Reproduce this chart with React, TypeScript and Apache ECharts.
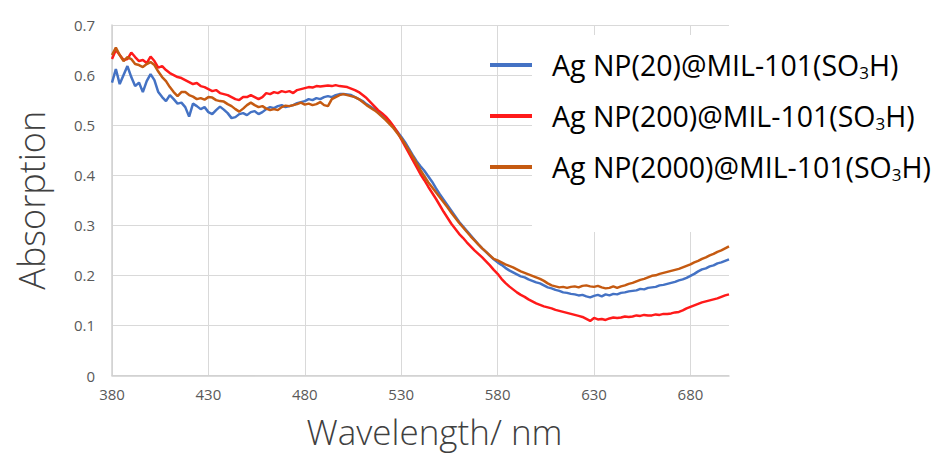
import React, { useEffect, useRef } from "react";
import * as echarts from "echarts";

const wavelengths = [
  380, 382, 384, 386, 388, 390, 392, 394, 396, 398, 400, 402, 404, 406, 408, 410, 412, 414, 416, 418,
  420, 422, 424, 426, 428, 430, 432, 434, 436, 438, 440, 442, 444, 446, 448, 450, 452, 454, 456, 458,
  460, 462, 464, 466, 468, 470, 472, 474, 476, 478, 480, 482, 484, 486, 488, 490, 492, 494, 496, 498,
  500, 502, 504, 506, 508, 510, 512, 514, 516, 518, 520, 522, 524, 526, 528, 530, 532, 534, 536, 538,
  540, 542, 544, 546, 548, 550, 552, 554, 556, 558, 560, 562, 564, 566, 568, 570, 572, 574, 576, 578,
  580, 582, 584, 586, 588, 590, 592, 594, 596, 598, 600, 602, 604, 606, 608, 610, 612, 614, 616, 618,
  620, 622, 624, 626, 628, 630, 632, 634, 636, 638, 640, 642, 644, 646, 648, 650, 652, 654, 656, 658,
  660, 662, 664, 666, 668, 670, 672, 674, 676, 678, 680, 682, 684, 686, 688, 690, 692, 694, 696, 698,
  700,
];

const agNp20 = [
  0.585, 0.612, 0.582, 0.600, 0.618, 0.596, 0.578, 0.585, 0.566, 0.588, 0.602, 0.590, 0.566, 0.556, 0.548, 0.560, 0.552, 0.543, 0.545, 0.536,
  0.517, 0.543, 0.538, 0.532, 0.536, 0.526, 0.522, 0.530, 0.537, 0.531, 0.524, 0.514, 0.516, 0.522, 0.524, 0.520, 0.526, 0.528, 0.522, 0.526,
  0.532, 0.536, 0.534, 0.538, 0.540, 0.536, 0.538, 0.540, 0.544, 0.546, 0.548, 0.552, 0.550, 0.554, 0.552, 0.556, 0.558, 0.556, 0.560, 0.562,
  0.562, 0.561, 0.560, 0.556, 0.552, 0.548, 0.542, 0.537, 0.532, 0.526, 0.519, 0.512, 0.504, 0.496, 0.487, 0.477, 0.466, 0.453, 0.440, 0.428,
  0.418, 0.409, 0.398, 0.387, 0.374, 0.362, 0.351, 0.340, 0.329, 0.318, 0.307, 0.298, 0.289, 0.280, 0.271, 0.262, 0.254, 0.247, 0.239, 0.232,
  0.226, 0.221, 0.215, 0.210, 0.206, 0.202, 0.198, 0.196, 0.192, 0.189, 0.186, 0.184, 0.180, 0.176, 0.174, 0.171, 0.169, 0.166, 0.165, 0.163,
  0.162, 0.160, 0.161, 0.158, 0.156, 0.159, 0.161, 0.158, 0.162, 0.160, 0.163, 0.162, 0.165, 0.166, 0.168, 0.169, 0.170, 0.173, 0.172, 0.175,
  0.176, 0.177, 0.180, 0.181, 0.183, 0.185, 0.187, 0.190, 0.192, 0.195, 0.199, 0.203, 0.208, 0.212, 0.214, 0.218, 0.220, 0.224, 0.226, 0.229,
  0.232,
];

const agNp200 = [
  0.632, 0.650, 0.640, 0.630, 0.632, 0.645, 0.636, 0.628, 0.630, 0.624, 0.637, 0.628, 0.615, 0.618, 0.610, 0.604, 0.600, 0.596, 0.594, 0.590,
  0.586, 0.582, 0.584, 0.578, 0.576, 0.572, 0.568, 0.570, 0.564, 0.562, 0.560, 0.556, 0.552, 0.550, 0.556, 0.556, 0.560, 0.556, 0.552, 0.556,
  0.564, 0.562, 0.566, 0.564, 0.568, 0.566, 0.568, 0.564, 0.570, 0.572, 0.574, 0.576, 0.575, 0.578, 0.577, 0.578, 0.579, 0.578, 0.580, 0.578,
  0.577, 0.576, 0.573, 0.570, 0.566, 0.560, 0.554, 0.546, 0.538, 0.530, 0.524, 0.517, 0.508, 0.498, 0.486, 0.472, 0.458, 0.444, 0.430, 0.416,
  0.402, 0.390, 0.377, 0.365, 0.353, 0.340, 0.327, 0.315, 0.303, 0.293, 0.283, 0.275, 0.266, 0.258, 0.250, 0.243, 0.236, 0.228, 0.220, 0.211,
  0.203, 0.193, 0.185, 0.178, 0.172, 0.166, 0.161, 0.157, 0.152, 0.148, 0.144, 0.141, 0.138, 0.136, 0.134, 0.131, 0.129, 0.127, 0.125, 0.123,
  0.121, 0.119, 0.117, 0.113, 0.109, 0.115, 0.112, 0.113, 0.111, 0.114, 0.116, 0.115, 0.116, 0.118, 0.117, 0.118, 0.120, 0.119, 0.121, 0.120,
  0.120, 0.122, 0.121, 0.123, 0.123, 0.124, 0.126, 0.127, 0.130, 0.134, 0.137, 0.140, 0.143, 0.146, 0.148, 0.150, 0.152, 0.154, 0.157, 0.160,
  0.162,
];

const agNp2000 = [
  0.640, 0.655, 0.640, 0.628, 0.636, 0.632, 0.622, 0.620, 0.616, 0.622, 0.626, 0.620, 0.607, 0.596, 0.588, 0.576, 0.566, 0.558, 0.566, 0.566,
  0.560, 0.557, 0.552, 0.554, 0.551, 0.556, 0.555, 0.550, 0.548, 0.547, 0.542, 0.538, 0.532, 0.527, 0.533, 0.540, 0.545, 0.540, 0.536, 0.538,
  0.533, 0.530, 0.532, 0.530, 0.536, 0.539, 0.538, 0.540, 0.542, 0.545, 0.541, 0.543, 0.540, 0.542, 0.546, 0.540, 0.538, 0.552, 0.556, 0.560,
  0.562, 0.560, 0.558, 0.556, 0.552, 0.546, 0.540, 0.535, 0.530, 0.524, 0.517, 0.510, 0.502, 0.494, 0.484, 0.474, 0.462, 0.450, 0.437, 0.424,
  0.410, 0.398, 0.386, 0.376, 0.366, 0.356, 0.346, 0.336, 0.325, 0.315, 0.305, 0.296, 0.287, 0.278, 0.270, 0.262, 0.254, 0.247, 0.240, 0.233,
  0.230, 0.226, 0.222, 0.219, 0.216, 0.212, 0.208, 0.205, 0.202, 0.199, 0.196, 0.193, 0.189, 0.184, 0.180, 0.178, 0.176, 0.177, 0.175, 0.177,
  0.178, 0.176, 0.179, 0.180, 0.178, 0.177, 0.179, 0.176, 0.174, 0.175, 0.178, 0.175, 0.178, 0.180, 0.183, 0.185, 0.188, 0.191, 0.193, 0.196,
  0.199, 0.200, 0.203, 0.205, 0.207, 0.209, 0.211, 0.213, 0.216, 0.219, 0.222, 0.226, 0.229, 0.233, 0.236, 0.240, 0.243, 0.247, 0.250, 0.254,
  0.258,
];

const seriesNames = ["Ag NP(20)@MIL-101(SO3H)", "Ag NP(200)@MIL-101(SO3H)", "Ag NP(2000)@MIL-101(SO3H)"];
const seriesValues = [agNp20, agNp200, agNp2000];
const seriesColors = ["#4472C4", "#FF1A1A", "#C55A11"];

const FONT = "'Open Sans', 'Noto Sans', sans-serif";

export default function App() {
  const ref = useRef<HTMLDivElement>(null);

  useEffect(() => {
    if (!ref.current) return;
    const chart = echarts.init(ref.current, null, { renderer: "svg" });
    const option = {
      animation: false,
      backgroundColor: "#ffffff",
      grid: { left: 112, right: 214, top: 25, bottom: 73, containLabel: false },
      legend: {
        orient: "vertical",
        left: 490,
        top: 48,
        padding: 0,
        itemWidth: 42,
        itemHeight: 4,
        itemGap: 17,
        icon: "rect",
        data: seriesNames,
        formatter: (name: string) => name.replace("SO3H", "SO{sub|3}H"),
        textStyle: {
          fontFamily: FONT,
          fontSize: 28.5,
          color: "#000000",
          lineHeight: 34,
          padding: [0, 0, 0, 15],
          rich: {
            sub: { fontFamily: FONT, fontSize: 17, lineHeight: 34, padding: [15, 0, 0, 0], color: "#000000" },
          },
        },
      },
      graphic: [
        {
          type: "rect",
          z: 1,
          shape: { x: 532, y: 35, width: 411, height: 197 },
          style: { fill: "#ffffff" },
          silent: true,
        },
      ],
      xAxis: {
        type: "value",
        min: 380,
        max: 700,
        interval: 50,
        name: "Wavelength/ nm",
        nameLocation: "middle",
        nameGap: 40,
        nameTextStyle: {
          fontFamily: FONT,
          fontSize: 35,
          lineHeight: 32,
          color: "#404040",
          fontWeight: 300,
          padding: [0, 0, 0, 28],
        },
        axisLine: { show: true, lineStyle: { color: "#D0D0D0", width: 1.5 } },
        axisTick: { show: false },
        axisLabel: { fontFamily: FONT, fontSize: 15, color: "#595959", margin: 11, showMaxLabel: false },
        splitLine: { show: true, showMaxLine: false, lineStyle: { color: "#D9D9D9", width: 1 } },
      },
      yAxis: {
        type: "value",
        min: 0,
        max: 0.7,
        interval: 0.1,
        name: "Absorption",
        nameLocation: "middle",
        nameRotate: 90,
        nameGap: 64,
        nameTextStyle: { fontFamily: FONT, fontSize: 36, lineHeight: 34, color: "#404040", fontWeight: 300 },
        axisLine: { show: true, lineStyle: { color: "#D0D0D0", width: 1.5 } },
        axisTick: { show: false },
        axisLabel: { fontFamily: FONT, fontSize: 15, color: "#595959", margin: 17 },
        splitLine: { show: true, lineStyle: { color: "#D9D9D9", width: 1 } },
      },
      series: seriesNames.map((name, i) => ({
        name,
        type: "line",
        data: wavelengths.map((w, j) => [w, seriesValues[i][j]]),
        showSymbol: false,
        symbol: "none",
        lineStyle: { color: seriesColors[i], width: 2.5 },
        itemStyle: { color: seriesColors[i] },
        z: 2 + i,
      })),
    };
    chart.setOption(option as any);
    return () => chart.dispose();
  }, []);

  return <div ref={ref} style={{ position: "fixed", left: 0, top: 0, width: 943, height: 454 }} />;
}
